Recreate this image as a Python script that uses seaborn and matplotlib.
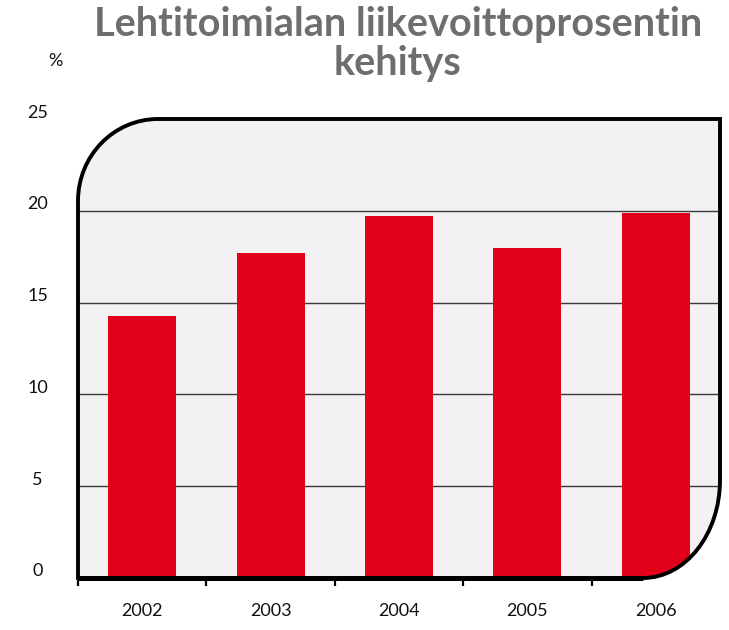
import matplotlib
matplotlib.use("Agg")
import matplotlib.pyplot as plt
import matplotlib.transforms as mtransforms
from matplotlib.path import Path
from matplotlib.patches import PathPatch
import seaborn as sns
import pandas as pd
import numpy as np

years = ["2002", "2003", "2004", "2005", "2006"]
values = [14.25, 17.7, 19.7, 18.0, 19.9]
y_ticks = [0, 5, 10, 15, 20, 25]
title = "Lehtitoimialan liikevoittoprosentin\nkehitys"
unit = "%"

sns.set_theme(style="white")
plt.rcParams["font.family"] = ["Lato", "DejaVu Sans"]

W, H = 729, 630
fig = plt.figure(figsize=(W / 100, H / 100), dpi=100)
L, R, B, T = 78, 720, 578, 119
ax = fig.add_axes([L / W, (H - B) / H, (R - L) / W, (B - T) / H])
ax.set_facecolor("none")

df = pd.DataFrame({"year": years, "value": values})

# rounded plot-area shape in axes coordinates
aw, ah = R - L, B - T
rx1, ry1 = 80 / aw, 82 / ah   # top-left
rx2, ry2 = 77 / aw, 98 / ah   # bottom-right
k = 0.5523
verts = [
    (0, 0), (1 - rx2, 0),
    (1 - rx2 + k * rx2, 0), (1, ry2 - k * ry2), (1, ry2),
    (1, 1), (rx1, 1),
    (rx1 - k * rx1, 1), (0, 1 - ry1 + k * ry1), (0, 1 - ry1),
    (0, 0),
]
codes = [Path.MOVETO, Path.LINETO,
         Path.CURVE4, Path.CURVE4, Path.CURVE4,
         Path.LINETO, Path.LINETO,
         Path.CURVE4, Path.CURVE4, Path.CURVE4,
         Path.CLOSEPOLY]
shape = Path(verts, codes)
bg = PathPatch(shape, transform=ax.transAxes, facecolor="#F2F2F2",
               edgecolor="none", zorder=0)
ax.add_patch(bg)
clip = PathPatch(shape, transform=ax.transAxes, facecolor="none",
                 edgecolor="none")
ax.add_patch(clip)

sns.barplot(data=df, x="year", y="value", color="#E2001A", width=0.53,
            saturation=1, ax=ax, zorder=3)
for p in ax.patches:
    if p is not bg and p is not clip:
        p.set_clip_path(clip)
        p.set_edgecolor("none")

for yv in y_ticks[1:-1]:
    ln = ax.axhline(yv, color="#3a3a3a", lw=1.0, zorder=2)
    ln.set_clip_path(clip)

border = PathPatch(shape, transform=ax.transAxes, facecolor="none",
                   edgecolor="black", lw=2.8, zorder=5, clip_on=False)
ax.add_patch(border)
ax.plot([0, 1 - rx2], [0, 0], transform=ax.transAxes, color="black",
        lw=3.6, zorder=6, clip_on=False, solid_capstyle="butt")

ax.set_xlim(-0.5, len(years) - 0.5)
ax.set_ylim(0, 25)
for s in ax.spines.values():
    s.set_visible(False)

# x ticks at category boundaries, labels at centres
ax.set_xticks(np.arange(-0.5, len(years) - 0.5, 1.0))
ax.set_xticklabels([])
ax.set_xticks(np.arange(len(years)), minor=True)
ax.set_xticklabels(years, minor=True, fontsize=13, color="#111111")
ax.tick_params(axis="x", which="major", direction="out", length=6,
               width=1.6, color="black", bottom=True)
ax.tick_params(axis="x", which="minor", length=0, pad=18)

ax.set_yticks(y_ticks)
ax.set_yticklabels([str(v) for v in y_ticks], fontsize=13, color="#111111")
ax.tick_params(axis="y", length=0, pad=29)
off = mtransforms.ScaledTranslation(0, 8 / 100, fig.dpi_scale_trans)
for lab in ax.get_yticklabels():
    lab.set_transform(lab.get_transform() + off)
    lab.set_horizontalalignment("center")
ax.set_xlabel("")
ax.set_ylabel("")

fig.text(398 / W, 1 - 44 / H, title, ha="center", va="center",
         fontsize=28.5, fontweight="bold", color="#6E6E6E", linespacing=1.08)
fig.text(55 / W, 1 - 61 / H, unit, ha="center", va="center",
         fontsize=13, color="#111111")

fig.savefig("out.png", dpi=100)
